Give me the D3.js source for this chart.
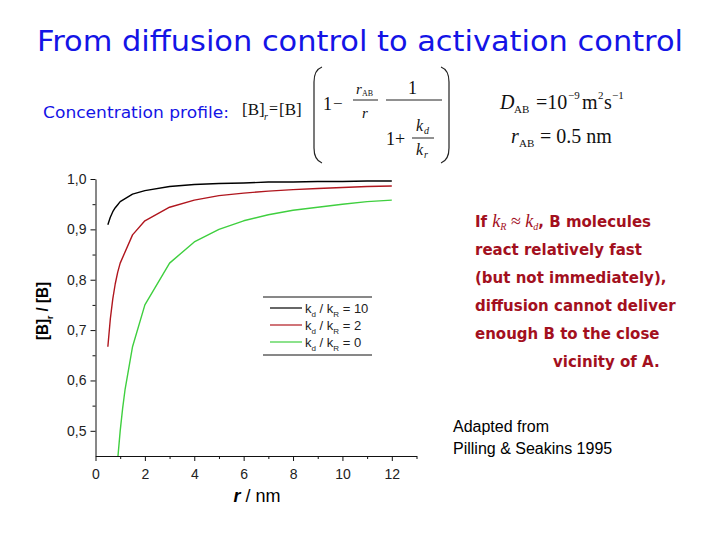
<!DOCTYPE html>
<html>
<head>
<meta charset="utf-8">
<script src="https://cdn.jsdelivr.net/npm/d3@7"></script>
<style>
  body { margin: 0; background: #fff; }
  svg { display: block; }
</style>
</head>
<body>
<div id="chart"></div>
<script>
// values
var rBlack = [0.5, 0.6, 0.7, 0.8, 0.9, 1, 1.5, 2, 3, 4, 5, 6, 7, 8, 9, 10, 11, 12];
var vBlack = [0.909, 0.924, 0.935, 0.943, 0.949, 0.955, 0.970, 0.977, 0.985, 0.989, 0.991, 0.992, 0.994, 0.994, 0.995, 0.995, 0.996, 0.996];
var rRed = [0.5, 0.6, 0.7, 0.8, 0.9, 1, 1.5, 2, 3, 4, 5, 6, 7, 8, 9, 10, 11, 12];
var vRed = [0.667, 0.722, 0.762, 0.792, 0.815, 0.833, 0.889, 0.917, 0.944, 0.958, 0.967, 0.972, 0.976, 0.979, 0.981, 0.983, 0.985, 0.986];
var rGreen = [0.9, 1, 1.1, 1.2, 1.5, 2, 3, 4, 5, 6, 7, 8, 9, 10, 11, 12];
var vGreen = [0.444, 0.5, 0.545, 0.583, 0.667, 0.75, 0.833, 0.875, 0.9, 0.917, 0.929, 0.938, 0.944, 0.95, 0.955, 0.958];

var seriesNames = ["10", "2", "0"];
var seriesColors = ["#000000", "#b0161e", "#3fcf3f"];

var xMajor = [0, 2, 4, 6, 8, 10, 12];
var xMinor = [1, 3, 5, 7, 9, 11, 13];
var yMajor = [0.5, 0.6, 0.7, 0.8, 0.9, 1.0];
var yMinor = [0.55, 0.65, 0.75, 0.85, 0.95];

var sideLines = ["If ", "react relatively fast", "(but not immediately),",
                 "diffusion cannot deliver", "enough B to the close", "vicinity of A."];

var W = 720, H = 540;
var svg = d3.select("#chart").append("svg")
    .attr("width", W).attr("height", H)
    .style("font-family", "'Liberation Sans', Arial, sans-serif");

var x = d3.scaleLinear().domain([0, 13]).range([95.5, 416.5]);
var y = d3.scaleLinear().domain([0.45, 1.0]).range([456, 179]);

// title
svg.append("text")
    .attr("x", 37).attr("y", 51)
    .attr("textLength", 646).attr("lengthAdjust", "spacingAndGlyphs")
    .style("font-family", "'DejaVu Sans', sans-serif")
    .style("font-size", "29px")
    .style("fill", "#1414e6")
    .text("From diffusion control to activation control");

svg.append("text")
    .attr("x", 43).attr("y", 118)
    .attr("textLength", 186).attr("lengthAdjust", "spacingAndGlyphs")
    .style("font-family", "'DejaVu Sans', sans-serif")
    .style("font-size", "15px")
    .style("fill", "#1414e6")
    .text("Concentration profile:");

// formula, drawn as text pieces
var f = svg.append("g").style("font-family", "'Liberation Serif', 'Times New Roman', serif").style("fill", "#111");
function ftext(tx, ty, size, str, italic) {
    return f.append("text").attr("x", tx).attr("y", ty)
        .style("font-size", size + "px")
        .style("font-style", italic ? "italic" : "normal")
        .text(str);
}
ftext(242, 115, 17, "[B]");
ftext(264, 120, 10, "r", true);
ftext(269, 114, 16, "=");
ftext(279, 115, 17, "[B]");
f.append("path")
    .attr("d", "M322,67 Q314,70 314,82 L314,148 Q314,160 322,163")
    .attr("fill", "none").attr("stroke", "#222").attr("stroke-width", 1.2);
f.append("path")
    .attr("d", "M441,67 Q449,70 449,82 L449,148 Q449,160 441,163")
    .attr("fill", "none").attr("stroke", "#222").attr("stroke-width", 1.2);
ftext(323, 110, 18, "1");
ftext(333, 109, 17, "\u2212");
ftext(356, 94, 15, "r", true);
ftext(362, 96, 8, "AB");
f.append("line").attr("x1", 353).attr("x2", 378).attr("y1", 100).attr("y2", 100).attr("stroke", "#222");
ftext(362, 118, 15, "r", true);
ftext(408, 94, 18, "1");
f.append("line").attr("x1", 386).attr("x2", 442).attr("y1", 100).attr("y2", 100).attr("stroke", "#222");
ftext(386, 145, 18, "1+");
ftext(416, 131, 16, "k", true);
ftext(424, 134, 10, "d", true);
f.append("line").attr("x1", 412).attr("x2", 434).attr("y1", 138).attr("y2", 138).attr("stroke", "#222");
ftext(416, 155, 16, "k", true);
ftext(424, 158, 10, "r", true);

ftext(500, 109, 20, "D", true);
ftext(514, 113, 11, "AB");
ftext(536, 109, 20, "=10");
ftext(568, 99, 11, "\u22129");
ftext(582, 109, 20, "m");
ftext(598, 99, 11, "2");
ftext(604, 109, 20, "s");
ftext(612, 99, 11, "\u22121");
ftext(511, 143, 20, "r", true);
ftext(519, 147, 11, "AB");
ftext(540, 143, 20, "= 0.5 nm");

// axes
var gx = svg.append("g").attr("transform", "translate(0," + y.range()[0] + ")");
gx.call(d3.axisBottom(x).tickValues(xMajor).tickSize(5).tickSizeOuter(0).tickFormat(d3.format("d")));
gx.append("g").call(d3.axisBottom(x).tickValues(xMinor).tickSize(3).tickFormat(""))
    .select(".domain").remove();
var gy = svg.append("g").attr("transform", "translate(" + x.range()[0] + ",0)");
gy.call(d3.axisLeft(y).tickValues(yMajor).tickSize(5).tickSizeOuter(0)
    .tickFormat(function (d) { return d3.format(".1f")(d).replace(".", ","); }));
gy.append("g").call(d3.axisLeft(y).tickValues(yMinor).tickSize(3).tickFormat(""))
    .select(".domain").remove();
svg.selectAll(".tick text")
    .style("font-family", "'Liberation Sans', Arial, sans-serif")
    .style("font-size", "14px").style("fill", "#222");
gx.selectAll(".tick text").attr("dy", "1.05em");
gy.selectAll(".tick text").attr("dx", "-1px");
svg.selectAll(".domain, .tick line").attr("stroke", "#111");

// axis titles
svg.append("text")
    .attr("x", 257).attr("y", 502)
    .attr("text-anchor", "middle")
    .style("font-size", "18px")
    .html('<tspan font-style="italic" font-weight="bold">r</tspan> / nm');

var yl = svg.append("text")
    .attr("transform", "translate(48,311) rotate(-90)")
    .attr("text-anchor", "middle")
    .attr("textLength", 58).attr("lengthAdjust", "spacingAndGlyphs")
    .style("font-size", "16px").style("font-weight", "bold")
    .style("font-family", "'Liberation Sans', sans-serif");
yl.append("tspan").text("[B]");
yl.append("tspan").attr("baseline-shift", "sub").style("font-size", "9px").text("r");
yl.append("tspan").text(" / [B]");

// curves
svg.append("clipPath").attr("id", "plotclip").append("rect")
    .attr("x", x(0)).attr("y", y(1.0) - 5)
    .attr("width", x(13) - x(0)).attr("height", y(0.45) - y(1.0) + 5);

var series = [
    { r: rBlack, v: vBlack },
    { r: rRed, v: vRed },
    { r: rGreen, v: vGreen }
];
var line = d3.line()
    .x(function (d) { return x(d[0]); })
    .y(function (d) { return y(d[1]); });
svg.append("g").attr("clip-path", "url(#plotclip)")
    .selectAll("path")
    .data(series)
    .enter().append("path")
    .attr("d", function (s) { return line(d3.zip(s.r, s.v)); })
    .attr("fill", "none")
    .attr("stroke", function (s, i) { return seriesColors[i]; })
    .attr("stroke-width", 1.4)
    .attr("stroke-linejoin", "round");

// legend
var lg = svg.append("g");
lg.append("line").attr("x1", 263).attr("x2", 372).attr("y1", 297).attr("y2", 297).attr("stroke", "#111");
lg.append("line").attr("x1", 263).attr("x2", 372).attr("y1", 355).attr("y2", 355).attr("stroke", "#111");
var items = lg.selectAll("g.item").data(seriesNames).enter().append("g")
    .attr("transform", function (d, i) { return "translate(0," + (308 + i * 17) + ")"; });
items.append("line")
    .attr("x1", 270).attr("x2", 302).attr("y1", 0).attr("y2", 0)
    .attr("stroke", function (d, i) { return seriesColors[i]; })
    .attr("stroke-width", 1.2);
var lt = items.append("text").attr("x", 305).attr("y", 5)
    .style("font-size", "13px").style("fill", "#222");
lt.append("tspan").text("k");
lt.append("tspan").attr("dy", 4).style("font-size", "8px").text("d");
lt.append("tspan").attr("dy", -4).text(" / k");
lt.append("tspan").attr("dy", 4).style("font-size", "8px").text("R");
lt.append("tspan").attr("dy", -4).text(function (d) { return " = " + d; });

// side note
var note = svg.append("g")
    .style("font-family", "'DejaVu Sans', sans-serif")
    .style("font-size", "15px").style("font-weight", "bold")
    .style("fill", "#a3101e");
var first = note.append("text").attr("x", 475).attr("y", 227);
first.append("tspan").text(sideLines[0]);
first.append("tspan").style("font-family", "'Liberation Serif', serif").style("font-weight", "normal").style("font-style", "italic").style("font-size", "18px").text("k");
first.append("tspan").attr("dy", 3).style("font-family", "'Liberation Serif', serif").style("font-weight", "normal").style("font-style", "italic").style("font-size", "10px").text("R");
first.append("tspan").attr("dy", -3).style("font-family", "'Liberation Serif', serif").style("font-weight", "normal").style("font-size", "18px").text(" \u2248 ");
first.append("tspan").style("font-family", "'Liberation Serif', serif").style("font-weight", "normal").style("font-style", "italic").style("font-size", "18px").text("k");
first.append("tspan").attr("dy", 3).style("font-family", "'Liberation Serif', serif").style("font-weight", "normal").style("font-style", "italic").style("font-size", "10px").text("d");
first.append("tspan").attr("dy", -3).text(", B molecules");
note.selectAll("text.rest").data(sideLines.slice(1)).enter().append("text")
    .attr("class", "rest")
    .attr("x", function (d, i) { return i === 4 ? 553 : 475; })
    .attr("y", function (d, i) { return 255 + i * 28; })
    .text(function (d) { return d; });

svg.append("text").attr("x", 453).attr("y", 432).style("font-size", "16px").text("Adapted from");
svg.append("text").attr("x", 453).attr("y", 454).style("font-size", "16px").text("Pilling & Seakins 1995");
</script>
</body>
</html>
